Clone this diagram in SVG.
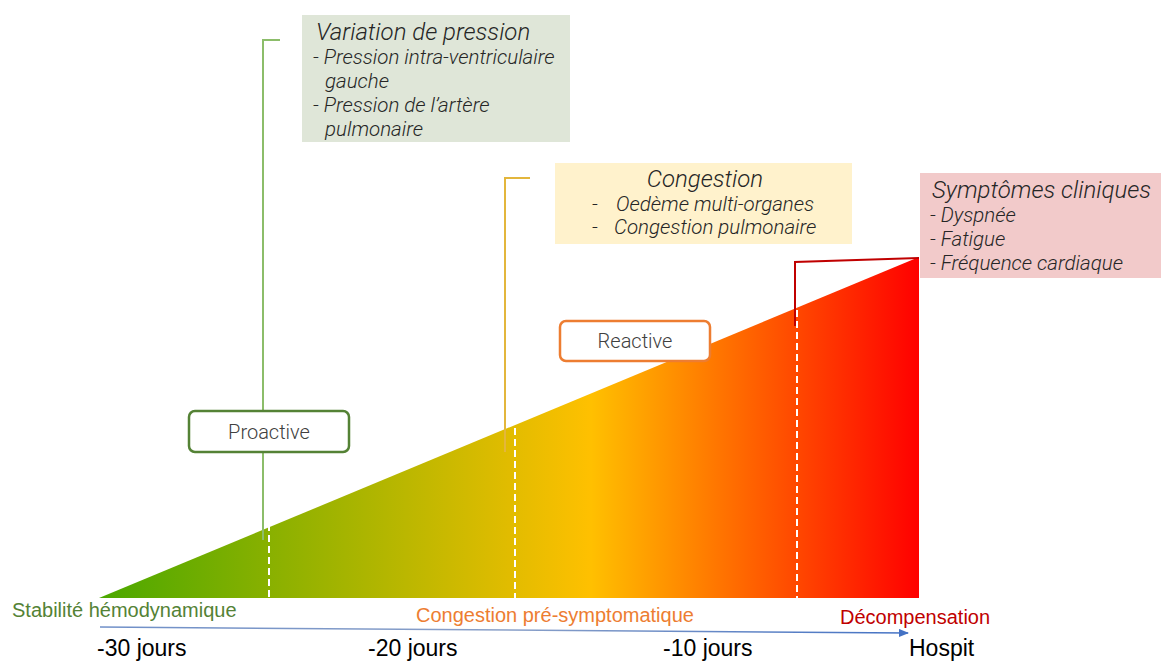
<svg xmlns="http://www.w3.org/2000/svg" width="1161" height="661" viewBox="0 0 1161 661">
<defs>
<linearGradient id="g" x1="99" y1="0" x2="919" y2="0" gradientUnits="userSpaceOnUse">
<stop offset="0" stop-color="#4aa800"/>
<stop offset="0.6" stop-color="#ffc000"/>
<stop offset="1" stop-color="#ff0000"/>
</linearGradient>
<marker id="ar" markerWidth="10" markerHeight="8" refX="9" refY="4" orient="auto" markerUnits="userSpaceOnUse">
<path d="M0,0 L10,4 L0,8 z" fill="#4472c4"/>
</marker>
<linearGradient id="ax" x1="0" y1="0" x2="1" y2="0">
<stop offset="0" stop-color="#6f8fc8"/>
<stop offset="0.5" stop-color="#8aa0c8"/>
<stop offset="1" stop-color="#4472c4"/>
</linearGradient>
</defs>
<style>
.it{font-family:Roboto,"Liberation Sans",sans-serif;font-style:italic;font-weight:300;fill:#262626}
.t{font-size:24px}
.s{font-size:20.5px}
.lab{font-family:Roboto,"Liberation Sans",sans-serif;font-weight:300;font-size:20px;fill:#404040}
.ar{font-family:"Liberation Sans",Arial,sans-serif;font-size:20px}
.day{font-family:"Liberation Sans",Arial,sans-serif;font-size:23px;fill:#000}
.dash{stroke:#fff;stroke-width:2;stroke-dasharray:7,4;fill:none}
</style>
<rect width="1161" height="661" fill="#fff"/>
<g id="triangle">
<polygon points="99,598 919,257 919,598" fill="url(#g)"/>
</g>
<g id="connectors">
<polyline points="280,40 263,40 263,540" fill="none" stroke="#8cbd6a" stroke-width="2"/>
<polyline points="530,178 505,178 505,452" fill="none" stroke="#e3b63c" stroke-width="2"/>
<polyline points="795,326 795,262 919,258" fill="none" stroke="#c00000" stroke-width="2"/>
<line class="dash" x1="269" y1="524" x2="269" y2="598"/>
<line class="dash" x1="515" y1="428" x2="515" y2="598"/>
<line class="dash" x1="797" y1="310" x2="797" y2="598"/>
<line x1="100" y1="627" x2="908" y2="633" stroke="url(#ax)" stroke-width="1.5" marker-end="url(#ar)"/>
</g>
<g id="box-pression">
<rect x="302" y="15" width="268" height="127" fill="#dfe6d8"/>
<text class="it t" x="316" y="40">Variation de pression</text>
<text class="it s" x="313" y="64">- Pression intra-ventriculaire</text>
<text class="it s" x="325" y="88">gauche</text>
<text class="it s" x="313" y="112">- Pression de l’artère</text>
<text class="it s" x="325" y="136">pulmonaire</text>
</g>
<g id="box-congestion">
<rect x="555" y="163" width="297" height="81" fill="#fff2cc"/>
<text class="it t" x="705" y="187" text-anchor="middle">Congestion</text>
<text class="it s" x="592" y="211">-</text>
<text class="it s" x="616" y="211">Oedème multi-organes</text>
<text class="it s" x="592" y="234">-</text>
<text class="it s" x="614" y="234">Congestion pulmonaire</text>
</g>
<g id="box-symptomes">
<rect x="920" y="173" width="241" height="105" fill="#f2caca"/>
<text class="it t" x="932" y="198">Symptômes cliniques</text>
<text class="it s" x="930" y="222">- Dyspnée</text>
<text class="it s" x="930" y="246">- Fatigue</text>
<text class="it s" x="930" y="270">- Fréquence cardiaque</text>
</g>
<g id="proactive">
<rect x="189" y="411" width="160" height="41" rx="6" fill="#fff" stroke="#548235" stroke-width="2.5"/>
<text class="lab" x="269" y="439" text-anchor="middle">Proactive</text>
</g>
<g id="reactive">
<rect x="560" y="321" width="150" height="40" rx="6" fill="#fff" stroke="#ed7d31" stroke-width="2.5"/>
<text class="lab" x="635" y="348" text-anchor="middle">Reactive</text>
</g>
<g id="phases">
<text class="ar" x="12" y="617" fill="#548235">Stabilité hémodynamique</text>
<text class="ar" x="416" y="622" fill="#ed7d31">Congestion pré-symptomatique</text>
<text class="ar" x="840" y="624" fill="#c00000">Décompensation</text>
</g>
<g id="days">
<text class="day" x="97" y="656">-30 jours</text>
<text class="day" x="368" y="656">-20 jours</text>
<text class="day" x="663" y="656">-10 jours</text>
<text class="day" x="909" y="656">Hospit</text>
</g>
</svg>
